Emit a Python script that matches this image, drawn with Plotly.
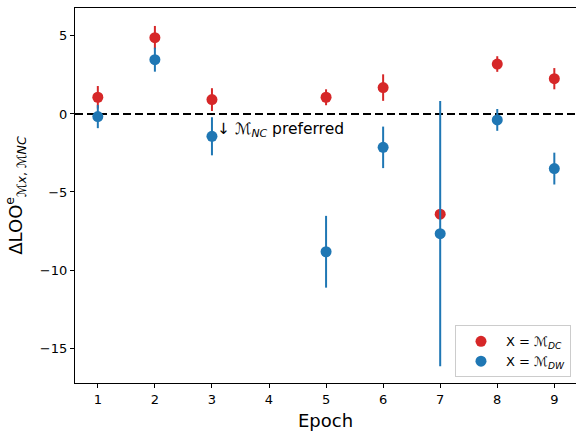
import plotly.graph_objects as go

epochs = [1, 2, 3, 5, 6, 7, 8, 9]
dc_values = [1.07, 4.89, 0.92, 1.07, 1.69, -6.42, 3.20, 2.26]
dc_errors = [0.72, 0.75, 0.73, 0.51, 0.85, 0.30, 0.50, 0.68]
dw_values = [-0.17, 3.48, -1.43, -8.83, -2.14, -7.67, -0.38, -3.50]
dw_errors = [0.74, 0.77, 1.22, 2.30, 1.33, 8.50, 0.70, 1.02]
x_ticks = [1, 2, 3, 4, 5, 6, 7, 8, 9]
y_ticks = [5, 0, -5, -10, -15]

RED = "#d62728"
BLUE = "#1f77b4"
FONT = "DejaVu Sans"

fig = go.Figure()
fig.add_trace(go.Scatter(
    x=epochs, y=dc_values, mode="markers",
    name="X = ℳ<sub><i>DC</i></sub>",
    marker=dict(color=RED, size=11),
    error_y=dict(type="data", array=dc_errors, visible=True, color=RED, thickness=2, width=0),
))
fig.add_trace(go.Scatter(
    x=epochs, y=dw_values, mode="markers",
    name="X = ℳ<sub><i>DW</i></sub>",
    marker=dict(color=BLUE, size=11),
    error_y=dict(type="data", array=dw_errors, visible=True, color=BLUE, thickness=2, width=0),
))

fig.add_hline(y=0, line=dict(color="black", width=2, dash="8px,4px"), layer="below")

fig.add_annotation(
    x=3.06, y=-1.0, xref="x", yref="y", xanchor="left", yanchor="middle",
    text="↓ ℳ<sub><i>NC</i></sub> preferred", showarrow=False,
    font=dict(family=FONT, size=15.5, color="black"),
)

fig.update_layout(
    width=576, height=434,
    margin=dict(l=75, r=0, t=8, b=51),
    plot_bgcolor="white", paper_bgcolor="white",
    font=dict(family=FONT, size=13, color="black"),
    showlegend=True,
    legend=dict(
        x=0.99, y=0.015, xanchor="right", yanchor="bottom",
        bgcolor="rgba(255,255,255,0.8)", bordercolor="#cccccc", borderwidth=1,
        font=dict(family=FONT, size=13), itemwidth=40,
    ),
    xaxis=dict(
        range=[0.6, 9.38], tickvals=x_ticks, ticks="outside", ticklen=4, tickcolor="black",
        showline=True, linecolor="black", linewidth=1.2, mirror=True,
        showgrid=False, zeroline=False,
        title=dict(text="Epoch", font=dict(family=FONT, size=18), standoff=8),
    ),
    yaxis=dict(
        range=[-17.24, 6.79], tickvals=y_ticks, ticks="outside", ticklen=4, tickcolor="black",
        showline=True, linecolor="black", linewidth=1.2, mirror=False,
        showgrid=False, zeroline=False,
        title=dict(text="ΔLOO<sup>e</sup><sub>ℳ<i>x</i>, ℳ<i>NC</i></sub>", font=dict(family=FONT, size=18), standoff=12),
    ),
)

fig.write_html(
    "out.html",
    config={"displayModeBar": False},
    post_script="document.body.style.margin='0';document.body.style.padding='0';document.body.style.overflow='hidden';",
)
